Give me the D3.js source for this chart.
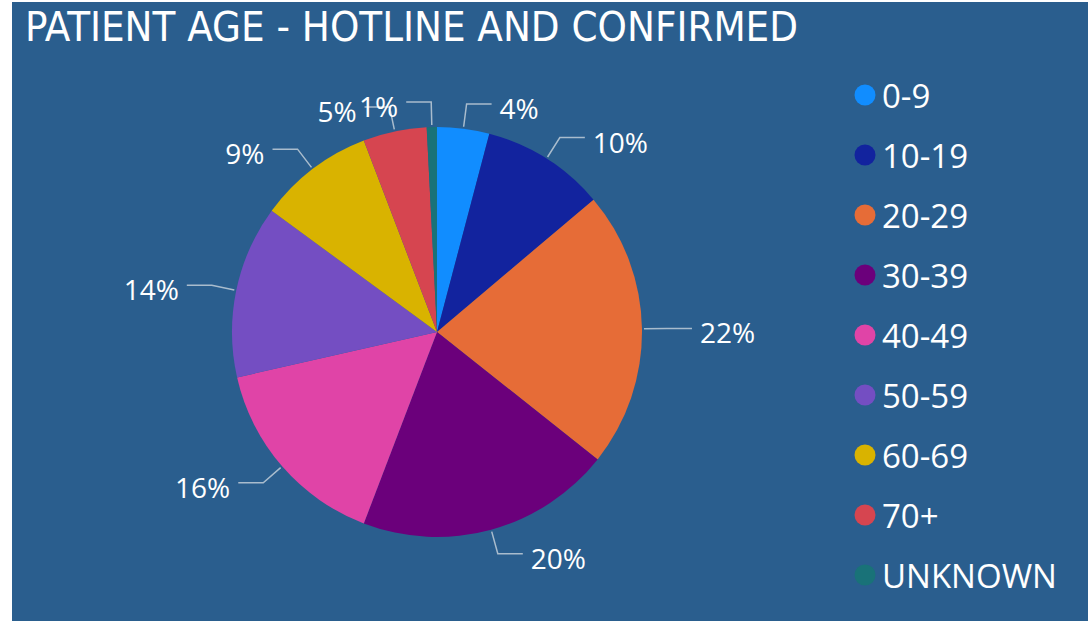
<!DOCTYPE html>
<html lang="en">
<head>
  <meta charset="UTF-8">
  <title>Patient Age - Hotline and Confirmed</title>
  <script src="https://d3js.org/d3.v7.min.js"></script>
  <style>
    body { margin: 0; background: #fff; }
    .title { font-family: "DejaVu Sans Condensed", "Liberation Sans Narrow", sans-serif; font-stretch: condensed; font-size: 40px; fill: #fff; }
    .pct { font-family: "Open Sans", sans-serif; font-size: 28px; fill: #fff; }
    .legend text { font-family: "Open Sans", sans-serif; font-size: 33px; fill: #fff; }
  </style>
</head>
<body>
  <div id="app"></div>
  <script>
    // age groups and their share of patients
    var groups = ["0-9", "10-19", "20-29", "30-39", "40-49", "50-59", "60-69", "70+", "UNKNOWN"];
    var shares = [4.1, 9.7, 21.8, 20.1, 15.6, 13.6, 9.1, 5.0, 0.8];
    var colors = ["#118DFF", "#12239E", "#E66C37", "#6B007B", "#E044A7", "#744EC2", "#D9B300", "#D64550", "#197278"];

    var width = 1088, height = 621;
    var cx = 437, cy = 332, radius = 205;

    var svg = d3.select("#app").append("svg")
      .attr("width", width)
      .attr("height", height);

    // panel background
    svg.append("rect")
      .attr("x", 12).attr("y", 2)
      .attr("width", width - 12).attr("height", height - 2)
      .attr("fill", "#2A5E8E");

    svg.append("text")
      .attr("class", "title")
      .attr("x", 25).attr("y", 41)
      .attr("textLength", 773)
      .attr("lengthAdjust", "spacingAndGlyphs")
      .text("PATIENT AGE - HOTLINE AND CONFIRMED");

    var total = d3.sum(shares);
    var fmt = d3.format(".0%");
    var color = d3.scaleOrdinal().domain(groups).range(colors);

    var pie = d3.pie().sort(null).value(function (d) { return d.v; });
    var arcs = pie(groups.map(function (g, i) { return { g: g, v: shares[i] }; }));
    var arc = d3.arc().innerRadius(0).outerRadius(radius);

    var g = svg.append("g").attr("transform", "translate(" + cx + "," + cy + ")");

    g.selectAll("path.slice")
      .data(arcs)
      .enter().append("path")
      .attr("class", "slice")
      .attr("d", arc)
      .attr("fill", function (d) { return color(d.data.g); });

    // leader lines: short radial piece, then horizontal
    function polar(r, a) { return [r * Math.sin(a), -r * Math.cos(a)]; }
    var r1 = radius + 2, r2 = radius + 25, hLen = 25;

    arcs.forEach(function (d) {
      var mid = (d.startAngle + d.endAngle) / 2;
      var side = Math.sin(mid) >= -1e-6 ? 1 : -1;
      var p1 = polar(r1, mid), p2 = polar(r2, mid);
      var p3 = [p2[0] + side * hLen, p2[1]];
      g.append("polyline")
        .attr("points", [p1, p2, p3].map(function (p) { return p.join(","); }).join(" "))
        .attr("fill", "none")
        .attr("stroke", "#A9BCCD")
        .attr("stroke-width", 1.5);
      g.append("text")
        .attr("class", "pct")
        .attr("x", p3[0] + side * 8)
        .attr("y", p3[1] + 15)
        .attr("text-anchor", side > 0 ? "start" : "end")
        .text(fmt(d.data.v / total));
    });

    // legend
    var legend = svg.append("g").attr("class", "legend")
      .selectAll("g")
      .data(groups)
      .enter().append("g")
      .attr("transform", function (d, i) { return "translate(865," + (95 + i * 60) + ")"; });
    legend.append("circle")
      .attr("r", 10.5)
      .attr("fill", function (d) { return color(d); });
    legend.append("text")
      .attr("x", 17)
      .attr("y", 13)
      .text(function (d) { return d; });
  </script>
</body>
</html>
